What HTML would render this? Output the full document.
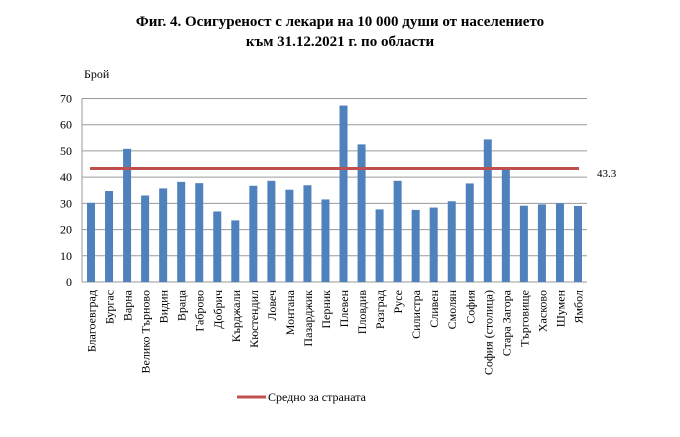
<!DOCTYPE html>
<html><head><meta charset="utf-8"><style>
body{margin:0;background:#fff;}
svg{display:block;font-family:"Liberation Serif",serif;}
</style></head><body>
<svg width="680" height="437" xmlns="http://www.w3.org/2000/svg">
<text x="340" y="26" text-anchor="middle" font-size="15" font-weight="bold">Фиг. 4. Осигуреност с лекари на 10 000 души от населението</text>
<text x="340" y="46" text-anchor="middle" font-size="15" font-weight="bold">към 31.12.2021 г. по области</text>
<text x="84" y="78" font-size="12">Брой</text>
<g id="g"></g>
<line x1="237" y1="397" x2="266" y2="397" stroke="#c0504d" stroke-width="3"/>
<text x="268" y="401" font-size="12">Средно за страната</text>
<text x="597" y="177" font-size="11">43.3</text>
</svg>
<script>
const names=["Благоевград","Бургас","Варна","Велико Търново","Видин","Враца","Габрово","Добрич","Кърджали","Кюстендил","Ловеч","Монтана","Пазарджик","Перник","Плевен","Пловдив","Разград","Русе","Силистра","Сливен","Смолян","София","София (столица)","Стара Загора","Търговище","Хасково","Шумен","Ямбол"];
const vals=[30.2,34.7,50.8,33,35.7,38.2,37.7,26.9,23.5,36.7,38.6,35.2,36.9,31.5,67.3,52.5,27.7,38.6,27.5,28.4,30.8,37.6,54.4,43.3,29.1,29.6,30.0,29.0];
const L=82,R=587,Z=282,T=98.5,k=(Z-T)/70,w=(R-L)/28;
let s='';
for(let i=0;i<=7;i++){const y=Z-i*10*k;s+=`<line x1="${L}" y1="${y}" x2="${R}" y2="${y}" stroke="#9a9a9a" stroke-width="1"/><text x="${L-10}" y="${y+4}" text-anchor="end" font-size="12">${i*10}</text>`;}
s+=`<line x1="${L}" y1="${T}" x2="${L}" y2="${Z}" stroke="#9a9a9a"/>`;
vals.forEach((v,i)=>{const cx=L+w*(i+0.5);s+=`<rect x="${cx-4}" y="${Z-v*k}" width="8" height="${v*k}" fill="#4f81bd"/>`;
s+=`<text transform="translate(${cx+4.5},290) rotate(-90)" text-anchor="end" font-size="12">${names[i]}</text>`;});
const ya=Z-43.3*k;
s+=`<line x1="90" y1="${ya}" x2="579" y2="${ya}" stroke="#c0504d" stroke-width="3"/>`;
document.getElementById('g').innerHTML=s;
</script>
</body></html>
